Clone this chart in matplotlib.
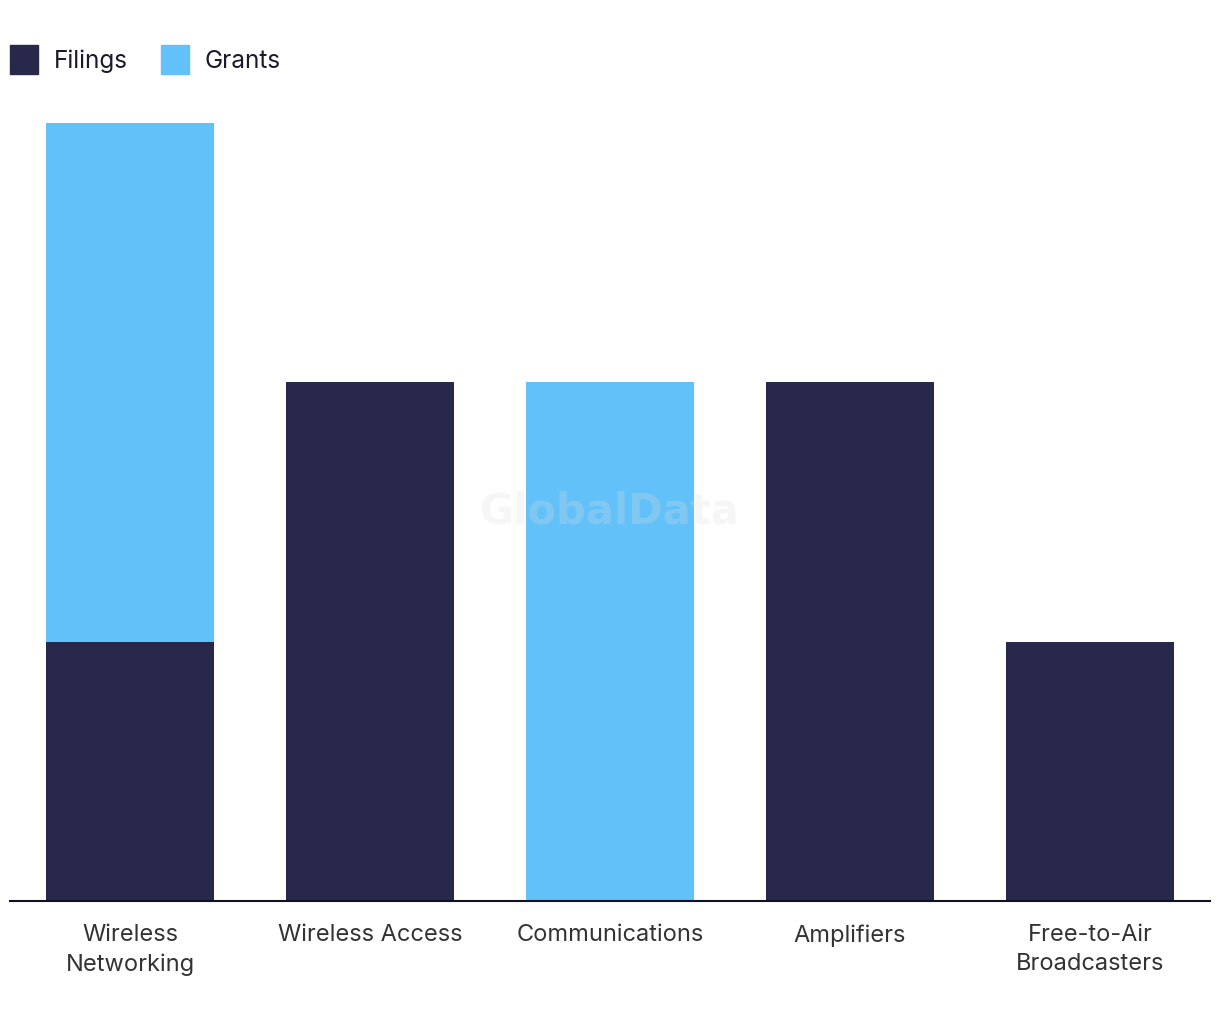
import matplotlib.pyplot as plt
import matplotlib.patches as mpatches
import numpy as np

plt.rcParams['font.family'] = ['Inter', 'DejaVu Sans']

categories = ['Wireless\nNetworking', 'Wireless Access', 'Communications', 'Amplifiers', 'Free-to-Air\nBroadcasters']
filings = [1, 2, 0, 2, 1]
grants = [2, 0, 2, 0, 0]

navy = '#27284a'
blue = '#62c1f9'
text_color = '#333333'

fig = plt.figure(figsize=(12.2, 10.2), dpi=100)
ax = fig.add_axes([10 / 1220, (1020 - 902) / 1020, 1200 / 1220, (902 - 124) / 1020])

x = np.arange(len(categories))
ax.bar(x, filings, width=0.7, color=navy)
ax.bar(x, grants, width=0.7, bottom=filings, color=blue)

ax.set_xlim(-0.5, len(categories) - 0.5)
ax.set_ylim(0, 3)
ax.set_xticks(x)
ax.set_xticklabels(categories, fontsize=17, color=text_color, linespacing=1.42)
ax.tick_params(axis='x', length=0, pad=16)
ax.set_yticks([])
for side in ['left', 'right', 'top']:
    ax.spines[side].set_visible(False)
ax.spines['bottom'].set_color('#111122')
ax.spines['bottom'].set_linewidth(1.5)

# watermark
fig.text(610 / 1220, 1 - 512 / 1020, 'GlobalData', ha='center', va='center',
         fontsize=30, fontweight='bold', color='#dddddd', alpha=0.25,
         family='DejaVu Sans')

handles = [mpatches.Patch(color=navy, label='Filings'),
           mpatches.Patch(color=blue, label='Grants')]
fig.legend(handles=handles, loc='upper left', bbox_to_anchor=(10 / 1220, 1 - 46 / 1020),
           ncol=2, frameon=False, fontsize=17.5, handlelength=1.15, handleheight=1.45,
           handletextpad=0.65, columnspacing=1.35, labelcolor='#1a1a2e',
           borderaxespad=0, borderpad=0)

fig.savefig('out.png', dpi=100)
